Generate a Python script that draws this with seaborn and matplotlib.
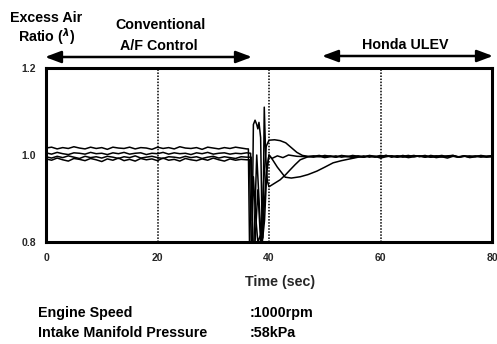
import numpy as np
import pandas as pd
import matplotlib
matplotlib.use("Agg")
import matplotlib.pyplot as plt
from matplotlib.patches import FancyArrowPatch
import seaborn as sns

# Excess air ratio (lambda) traces of four runs, split into the steady
# conventional-control part, the transition, and the settled ULEV part.
pre_time = np.arange(0, 37, 1.0)
a_pre = [1.016, 1.018, 1.014, 1.017, 1.015, 1.019, 1.016, 1.014, 1.018, 1.015,
         1.017, 1.013, 1.018, 1.016, 1.015, 1.018, 1.014, 1.017, 1.016, 1.013,
         1.018, 1.015, 1.017, 1.014, 1.019, 1.016, 1.015, 1.017, 1.013, 1.018,
         1.016, 1.014, 1.017, 1.015, 1.018, 1.016, 1.014]
b_pre = [1.005, 1.002, 1.006, 1.003, 1.001, 1.005, 1.004, 1.002, 1.006, 1.003,
         1.004, 1.001, 1.005, 1.003, 1.006, 1.002, 1.004, 1.005, 1.001, 1.004,
         1.003, 1.006, 1.002, 1.005, 1.003, 1.004, 1.001, 1.005, 1.003, 1.006,
         1.002, 1.004, 1.005, 1.002, 1.004, 1.003, 1.005]
c_pre = [0.996, 0.993, 0.997, 0.994, 0.998, 0.995, 0.992, 0.997, 0.994, 0.996,
         0.993, 0.997, 0.995, 0.992, 0.996, 0.994, 0.998, 0.993, 0.995, 0.997,
         0.994, 0.992, 0.996, 0.995, 0.993, 0.997, 0.994, 0.996, 0.992, 0.995,
         0.997, 0.993, 0.996, 0.994, 0.992, 0.996, 0.995]
d_pre = [0.991, 0.988, 0.993, 0.989, 0.986, 0.992, 0.990, 0.987, 0.992, 0.989,
         0.985, 0.991, 0.988, 0.993, 0.987, 0.990, 0.986, 0.992, 0.989, 0.991,
         0.987, 0.993, 0.988, 0.990, 0.986, 0.992, 0.989, 0.987, 0.991, 0.988,
         0.993, 0.989, 0.986, 0.991, 0.988, 0.990, 0.989]

# transition after the switch to the ULEV controller
a_mid_t = [36.3, 36.5, 36.9, 37.2, 37.6, 38.0, 38.6, 39.0, 39.5, 40.0, 41.0,
           42.0, 43.0, 44.0, 45.0, 46.0, 47.0]
a_mid_v = [1.014, 0.80, 0.80, 0.95, 0.86, 0.80, 0.82, 0.93, 1.02, 1.034, 1.035,
           1.033, 1.028, 1.017, 1.006, 0.999, 0.997]
b_mid_t = [36.7, 37.0, 37.2, 37.5, 37.8, 38.0, 38.2, 38.5, 38.8, 39.2, 39.6,
           40.0, 40.5, 41.5, 42.5, 43.5, 45.0, 47.0]
b_mid_v = [1.004, 0.85, 1.07, 1.08, 1.07, 1.06, 1.075, 1.04, 0.80, 0.85, 0.96,
           1.00, 0.992, 0.998, 0.994, 1.000, 0.997, 0.996]
c_mid_t = [36.8, 37.1, 37.5, 38.0, 38.5, 38.9, 39.15, 39.4, 39.7, 40.0, 41.0,
           42.0, 43.0, 43.8, 44.7, 45.6, 47.0]
c_mid_v = [0.995, 0.80, 0.80, 0.92, 0.80, 0.81, 1.11, 1.00, 0.94, 0.927, 0.935,
           0.943, 0.955, 0.966, 0.978, 0.989, 0.996]
d_mid_t = [36.5, 36.8, 37.3, 37.8, 38.2, 38.6, 39.0, 39.5, 40.0, 40.5, 41.5,
           42.9, 44.0, 45.6, 47.0, 48.6, 50.0, 51.5, 53.0, 54.5, 56.0]
d_mid_v = [0.989, 0.80, 0.80, 1.00, 0.90, 0.80, 0.85, 0.96, 1.00, 0.992, 0.972,
           0.949, 0.947, 0.950, 0.955, 0.963, 0.972, 0.982, 0.987, 0.991, 0.995]

post_time = np.arange(48, 81, 1.0)
a_post = [0.997, 0.999, 0.996, 0.998, 0.995, 0.999, 0.997, 0.996, 0.998, 0.995,
          0.999, 0.997, 0.996, 0.999, 0.995, 0.998, 0.997, 0.999, 0.996, 0.998,
          0.995, 0.999, 0.997, 0.996, 0.998, 0.999, 0.995, 0.997, 0.998, 0.996,
          0.999, 0.997, 0.998]
b_post = [0.998, 0.996, 0.999, 0.997, 0.995, 0.998, 0.996, 0.999, 0.997, 0.995,
          0.998, 0.996, 0.999, 0.997, 0.998, 0.995, 0.999, 0.996, 0.998, 0.997,
          0.999, 0.995, 0.998, 0.996, 0.997, 0.999, 0.996, 0.998, 0.995, 0.997,
          0.998, 0.996, 0.997]
c_post = [0.995, 0.997, 0.994, 0.996, 0.998, 0.995, 0.997, 0.994, 0.996, 0.998,
          0.995, 0.997, 0.993, 0.996, 0.998, 0.995, 0.997, 0.994, 0.996, 0.998,
          0.995, 0.997, 0.994, 0.996, 0.993, 0.997, 0.995, 0.998, 0.994, 0.996,
          0.997, 0.995, 0.996]
d_post_time = np.arange(57, 81, 1.0)
d_post = [0.996, 0.998, 0.995, 0.997, 0.999, 0.996, 0.998, 0.995, 0.997, 0.999,
          0.996, 0.998, 0.995, 0.997, 0.999, 0.996, 0.998, 0.995, 0.997, 0.996,
          0.998, 0.995, 0.997, 0.998]

x_ticks = [0, 20, 40, 60, 80]
y_ticks = [0.8, 1.0, 1.2]


def run_frame(name, parts):
    t = np.concatenate([np.asarray(p[0], float) for p in parts])
    v = np.concatenate([np.asarray(p[1], float) for p in parts])
    return pd.DataFrame({"time": t, "lam": v, "run": name})


df = pd.concat([
    run_frame("A", [(pre_time, a_pre), (a_mid_t, a_mid_v), (post_time, a_post)]),
    run_frame("B", [(pre_time, b_pre), (b_mid_t, b_mid_v), (post_time, b_post)]),
    run_frame("C", [(pre_time, c_pre), (c_mid_t, c_mid_v), (post_time, c_post)]),
    run_frame("D", [(pre_time, d_pre), (d_mid_t, d_mid_v), (d_post_time, d_post)]),
], ignore_index=True)

sns.set_theme(style="white")
plt.rcParams["font.family"] = ["Liberation Sans", "DejaVu Sans"]
plt.rcParams["font.weight"] = "bold"

W, H = 497, 344
fig = plt.figure(figsize=(W / 100, H / 100), dpi=100)
ax = fig.add_axes([46 / W, 1 - 242 / H, (492 - 46) / W, (242 - 68) / H])

sns.lineplot(data=df, x="time", y="lam", units="run", estimator=None,
             sort=False, color="black", linewidth=1.1, ax=ax, legend=False)

for xv in [20, 40, 60]:
    ax.axvline(xv, color="black", linestyle=(0, (1, 1)), linewidth=1.1, zorder=1)

ax.set_xlim(0, 80)
ax.set_ylim(0.8, 1.2)
ax.set_xticks(x_ticks)
ax.set_yticks(y_ticks)
ax.set_xticklabels([str(t) for t in x_ticks], fontsize=7.5, fontweight="bold")
ax.set_yticklabels([f"{t:.1f}" for t in y_ticks], fontsize=7.5, fontweight="bold")
ax.tick_params(axis="both", length=0)
ax.tick_params(axis="x", pad=8)
ax.tick_params(axis="y", pad=7)
ax.grid(False)
for sp in ax.spines.values():
    sp.set_visible(True)
    sp.set_color("black")
    sp.set_linewidth(2.2)

ax.set_ylabel("")
ax.set_xlabel("Time (sec)", fontsize=10.3, fontweight="bold")
ax.xaxis.set_label_coords((280 - 46) / (492 - 46), (242 - 282) / (242 - 68))
ax.xaxis.label.set_va("center")


def ftext(x, y, s, ha="center", size=10.3):
    fig.text(x / W, 1 - y / H, s, ha=ha, va="center", fontsize=size,
             fontweight="bold", color="black")


ftext(46, 18, "Excess Air")
ftext(47, 37, r"Ratio ($^{\lambda}$)")
ftext(161, 25, "Conventional")
ftext(159, 46, "A/F Control")
ftext(405, 45, "Honda ULEV")
ftext(38, 313, "Engine Speed", ha="left")
ftext(38, 333, "Intake Manifold Pressure", ha="left")
ftext(250, 313, ":1000rpm", ha="left")
ftext(250, 333, ":58kPa", ha="left")


def farrow(x0, x1, y):
    arr = FancyArrowPatch((x0 / W, 1 - y / H), (x1 / W, 1 - y / H),
                          transform=fig.transFigure,
                          arrowstyle="<|-|>,head_length=0.8,head_width=0.3",
                          mutation_scale=12, linewidth=1.8, color="black",
                          shrinkA=0, shrinkB=0)
    fig.patches.append(arr)


farrow(45, 252, 57)
farrow(322, 493, 56)

fig.savefig("out.png", dpi=100)
